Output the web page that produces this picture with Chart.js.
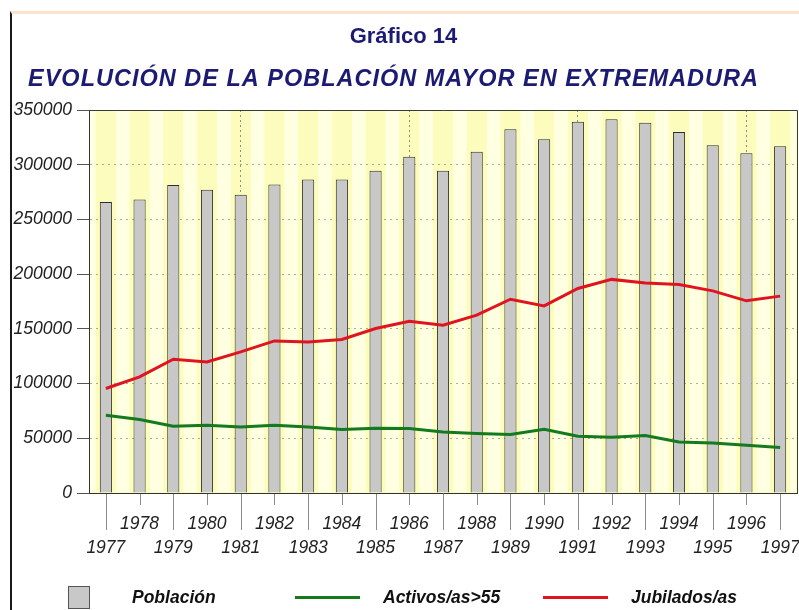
<!DOCTYPE html>
<html>
<head>
<meta charset="utf-8">
<script src="https://cdn.jsdelivr.net/npm/chart.js@4/dist/chart.umd.min.js"></script>
<style>
html, body { margin: 0; padding: 0; background: #ffffff; width: 799px; height: 610px; overflow: hidden; }
#frame { position: absolute; left: 10px; top: 11px; width: 789px; height: 599px; box-sizing: border-box;
  border-top: 3px solid #fde2cc; border-left: 2px solid #1a1a1a; }
#c { position: absolute; left: 0; top: 0; }
#legend { position: absolute; left: 0; top: 0; width: 799px; height: 610px; pointer-events: none; }
.lg-item { position: absolute; top: 585px; height: 24px; display: flex; align-items: center;
  font: bold italic 17.5px "Liberation Sans", Arial, sans-serif; color: #111; white-space: nowrap; }
.lg-sym { flex: none; box-sizing: border-box; }
</style>
</head>
<body>
<div id="frame"></div>
<canvas id="c" width="799" height="610"></canvas>
<div id="legend"></div>
<script>
// ---- data ----
const TITLE = 'Gráfico 14';
const SUBTITLE = 'EVOLUCIÓN DE LA POBLACIÓN MAYOR EN EXTREMADURA';
const years = ['1977','1978','1979','1980','1981','1982','1983','1984','1985','1986','1987',
               '1988','1989','1990','1991','1992','1993','1994','1995','1996','1997'];
const poblacion = [266000, 268300, 281400, 277100, 272500, 282000, 286600, 286600, 294500, 307300, 294500,
                   311800, 332300, 323200, 339300, 341500, 338400, 329900, 317700, 310400, 316800];
const activos = [71100, 67100, 61000, 61900, 60400, 61900, 60400, 58000, 59200, 58900, 55800,
                 54300, 53400, 58300, 51900, 50900, 52500, 46600, 45700, 43600, 41500];
const jubilados = [95500, 106100, 122300, 119800, 129000, 139000, 138100, 140300, 150300, 157000, 153400,
                   162500, 177100, 171000, 186900, 195200, 192000, 190600, 184700, 175600, 179900];
const yTicks = [0, 50000, 100000, 150000, 200000, 250000, 300000, 350000];
const seriesNames = ['Población', 'Activos/as>55', 'Jubilados/as'];

const FONT = '"Liberation Sans", Arial, sans-serif';
Chart.defaults.font.family = FONT;
Chart.defaults.color = '#222';

// letter spacing for the subtitle (drawn by Chart.js subtitle plugin)
const titleSpacing = {
  id: 'titleSpacing',
  afterInit(chart) {
    chart.boxes.forEach(b => {
      if (b && b.options && b.options.text === SUBTITLE) {
        const orig = b.draw;
        b.draw = function (...args) {
          const ctx = this.ctx;
          ctx.save();
          ctx.letterSpacing = '1px';
          ctx.translate(-10, 0);
          orig.apply(this, args);
          ctx.restore();
        };
      }
    });
  }
};

// plot background with pale stripes between bars
const plotBg = {
  id: 'plotBg',
  beforeDraw(chart) {
    const { ctx, chartArea: a, scales: { x } } = chart;
    ctx.save();
    ctx.fillStyle = '#fcfcbc';
    ctx.fillRect(a.left, a.top, a.right - a.left, a.bottom - a.top);
    const meta = chart.getDatasetMeta(0);
    const half = (meta.data[0] && meta.data[0].width ? meta.data[0].width : 12) / 2;
    ctx.fillStyle = '#ffffe2';
    const n = chart.data.labels.length;
    for (let i = 0; i <= n; i++) {
      const l = i === 0 ? a.left + 1 : x.getPixelForValue(i - 1) + half + 4;
      const r = i === n ? a.right - 1 : x.getPixelForValue(i) - half - 4;
      if (r > l) ctx.fillRect(l, a.top + 1, r - l, a.bottom - a.top - 2);
    }
    ctx.restore();
  },
  afterDraw(chart) {
    const { ctx, chartArea: a, scales: { x } } = chart;
    ctx.save();
    // frame top and right
    ctx.strokeStyle = '#3a3a3a';
    ctx.lineWidth = 1;
    ctx.beginPath();
    ctx.moveTo(a.left, a.top + 0.5);
    ctx.lineTo(a.right + 0.5, a.top + 0.5);
    ctx.lineTo(a.right + 0.5, a.bottom);
    ctx.stroke();
    // x tick marks: long for the lower row, short for the upper row
    ctx.strokeStyle = '#8a8a8a';
    const n = chart.data.labels.length;
    for (let i = 0; i < n; i++) {
      const px = Math.round(x.getPixelForValue(i)) + 0.5;
      const len = i % 2 === 0 ? 37 : 12;
      ctx.beginPath();
      ctx.moveTo(px, a.bottom + 1);
      ctx.lineTo(px, a.bottom + len);
      ctx.stroke();
    }
    ctx.restore();
  }
};

const chart = new Chart(document.getElementById('c'), {
  data: {
    labels: years,
    datasets: [
      { type: 'bar', label: seriesNames[0], data: poblacion, order: 3,
        backgroundColor: '#c8c8c8', borderColor: '#2e2e2e', borderWidth: 1,
        barPercentage: 0.36, categoryPercentage: 1.0 },
      { type: 'line', label: seriesNames[1], data: activos, order: 2,
        borderColor: '#137a1e', backgroundColor: '#137a1e', borderWidth: 3,
        pointRadius: 0, tension: 0, fill: false },
      { type: 'line', label: seriesNames[2], data: jubilados, order: 1,
        borderColor: '#e0141e', backgroundColor: '#e0141e', borderWidth: 3,
        pointRadius: 0, tension: 0, fill: false }
    ]
  },
  options: {
    responsive: false,
    animation: false,
    devicePixelRatio: 1,
    layout: { padding: { left: 10, right: 2, top: 12, bottom: 0 } },
    plugins: {
      legend: { display: false },
      tooltip: { enabled: false },
      title: {
        display: true, text: TITLE, color: '#1b1b73',
        font: { size: 22, weight: 'bold', lineHeight: 1.2 },
        padding: { top: 12, bottom: 6 }
      },
      subtitle: {
        display: true, text: SUBTITLE, color: '#1b1b73',
        font: { size: 23.5, weight: 'bold', style: 'italic', lineHeight: 1.2 },
        padding: { top: 9.3, bottom: 16.1 }
      }
    },
    scales: {
      x: {
        type: 'category',
        offset: true,
        grid: {
          offset: false, drawTicks: false, lineWidth: 1,
          color: c => (c.index % 5 === 4 ? 'rgba(110,110,110,0.75)' : 'rgba(0,0,0,0)')
        },
        border: { display: true, color: '#333', width: 1, dash: [2, 3] },
        ticks: {
          autoSkip: false, maxRotation: 0, minRotation: 0, padding: 19, color: '#222',
          font: { size: 17.5, style: 'italic', lineHeight: 24 / 17.5 },
          callback: function (v, i) {
            const lab = this.getLabelForValue(v);
            return i % 2 === 0 ? ['', lab] : [lab];
          }
        },
        afterFit(s) { s.height = 117; s.paddingLeft = 0; s.paddingRight = 0; }
      },
      y: {
        type: 'linear',
        min: yTicks[0], max: yTicks[yTicks.length - 1],
        afterBuildTicks(s) { s.ticks = yTicks.map(v => ({ value: v })); },
        grid: {
          color: 'rgba(120,120,110,0.6)', lineWidth: 1,
          drawTicks: true, tickLength: 12, tickColor: '#555', tickBorderDash: []
        },
        border: { display: true, color: '#333', width: 1, dash: [2, 4] },
        ticks: {
          padding: 5, color: '#222',
          font: { size: 17.5, style: 'italic' },
          callback: v => String(v)
        },
        afterFit(s) { s.width = 79; }
      }
    }
  },
  plugins: [titleSpacing, plotBg]
});

// legend built from the chart's datasets
const legendLayout = [
  { left: 68, gap: 42, sym: 'box' },
  { left: 295, gap: 23, sym: 'line' },
  { left: 543, gap: 23, sym: 'line' }
];
const legendEl = document.getElementById('legend');
chart.data.datasets.forEach((ds, i) => {
  const L = legendLayout[i];
  const item = document.createElement('div');
  item.className = 'lg-item';
  item.style.left = L.left + 'px';
  const sym = document.createElement('span');
  sym.className = 'lg-sym';
  if (L.sym === 'box') {
    sym.style.width = '22px'; sym.style.height = '23px';
    sym.style.background = ds.backgroundColor;
    sym.style.border = '1px solid #555';
  } else {
    sym.style.width = '65px'; sym.style.height = '3px';
    sym.style.background = ds.borderColor;
  }
  const txt = document.createElement('span');
  txt.textContent = ds.label;
  txt.style.marginLeft = L.gap + 'px';
  item.appendChild(sym);
  item.appendChild(txt);
  legendEl.appendChild(item);
});
</script>
</body>
</html>
